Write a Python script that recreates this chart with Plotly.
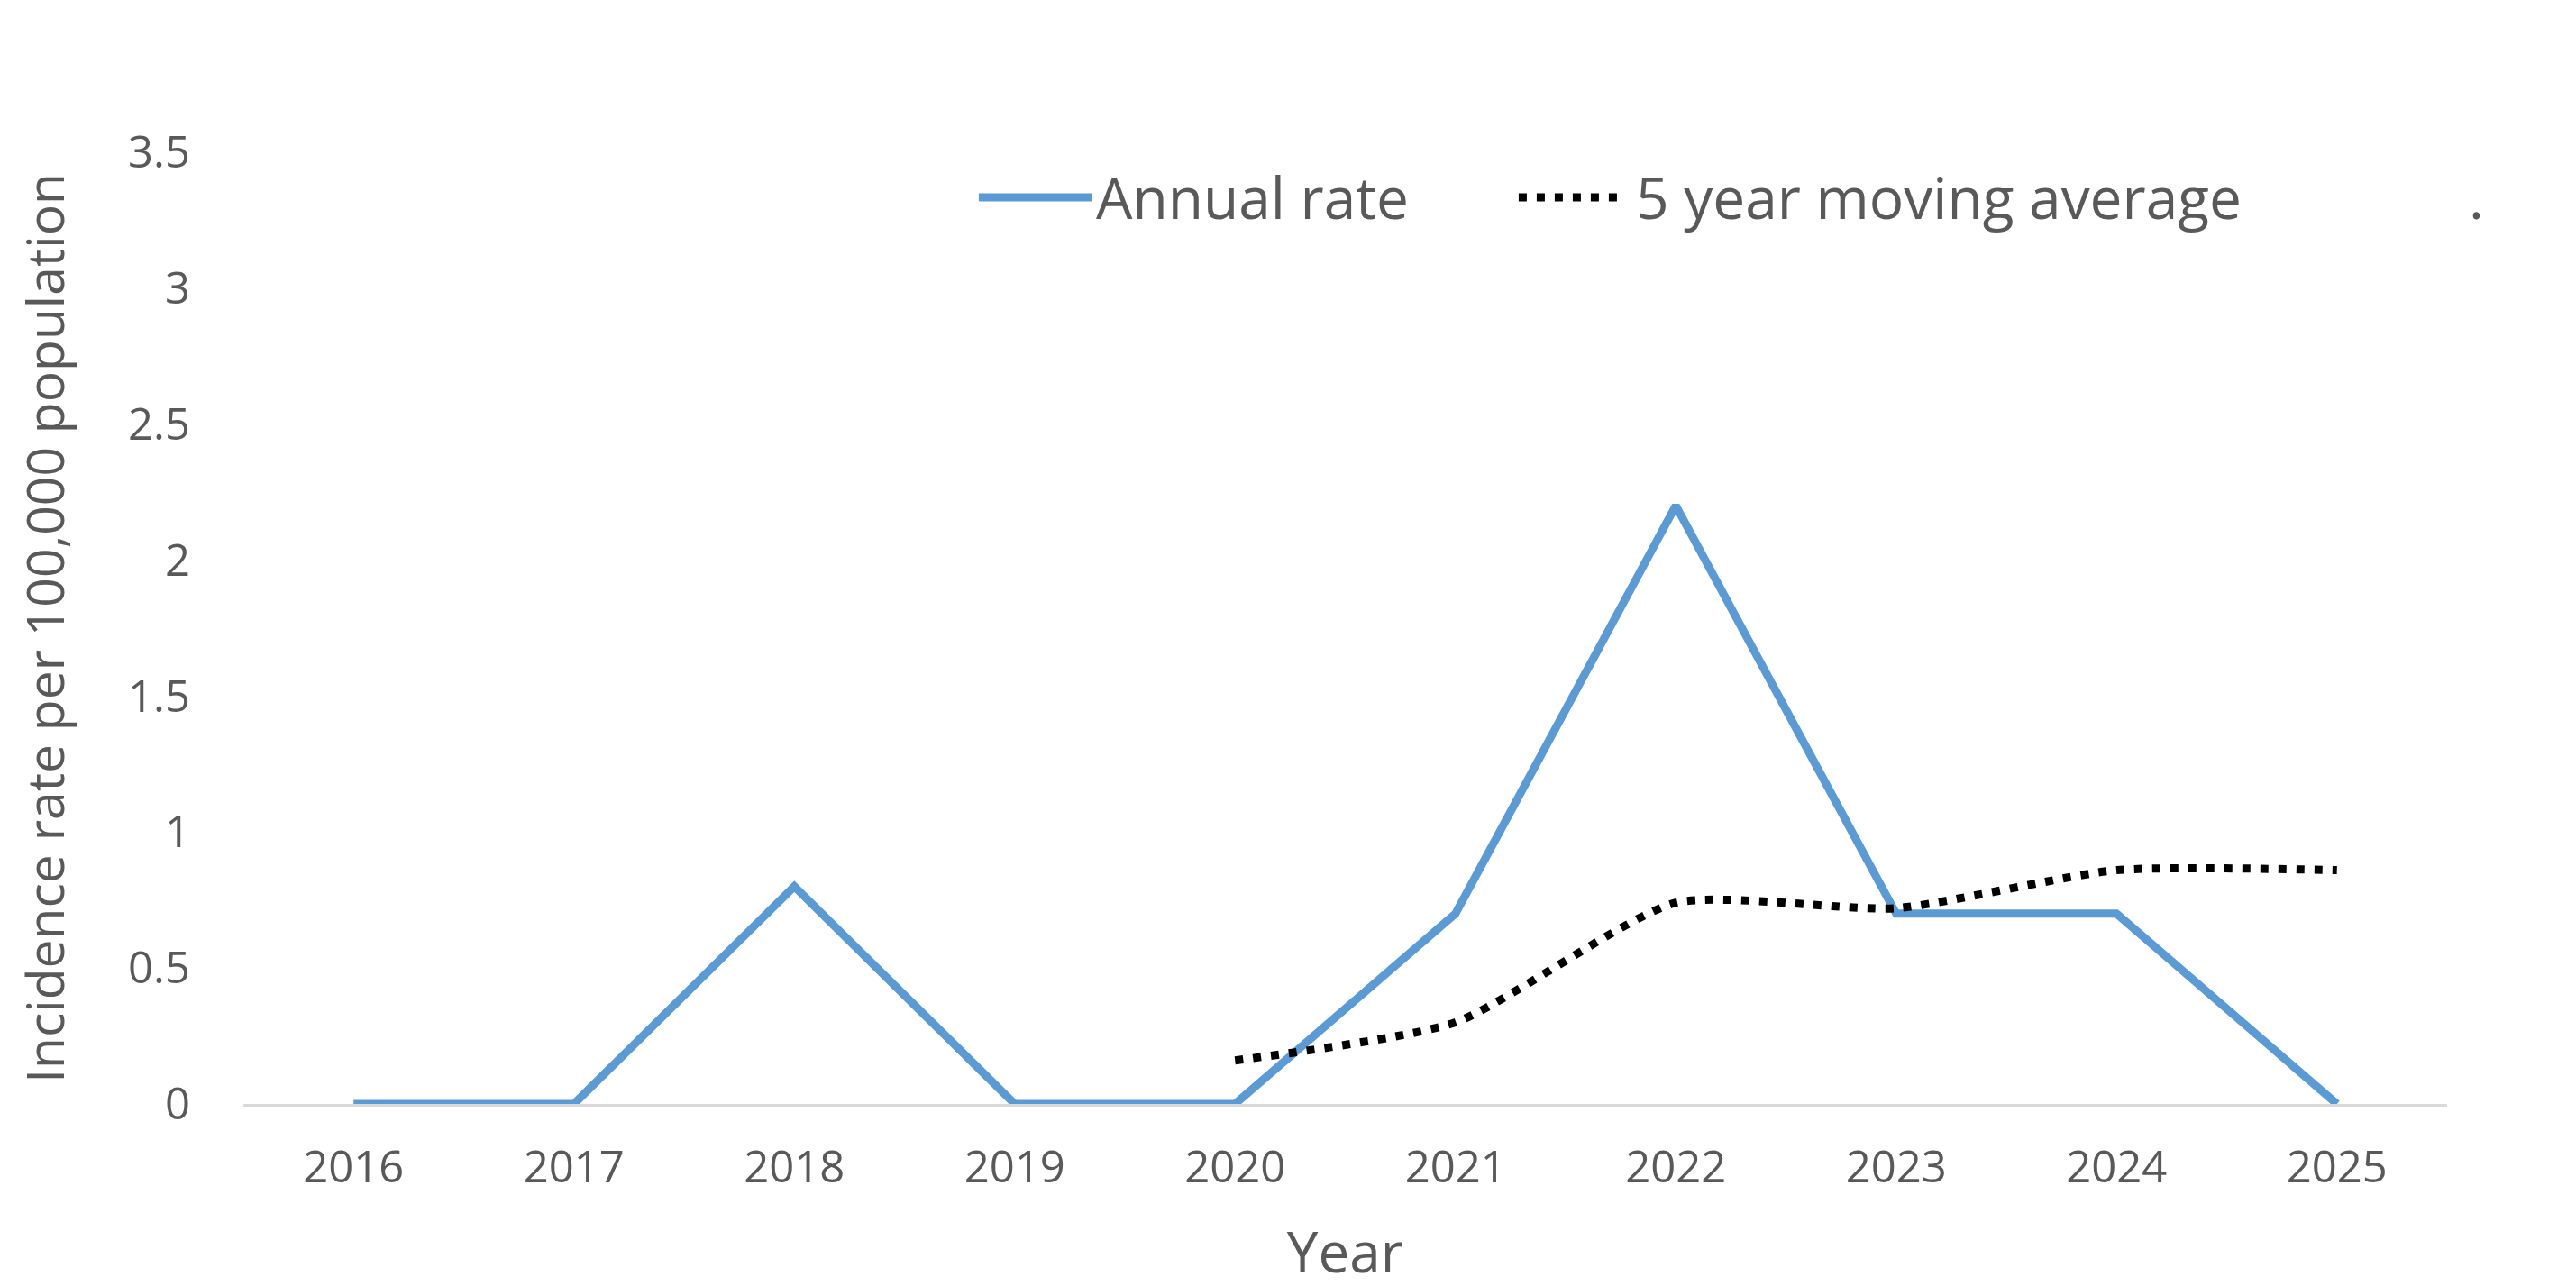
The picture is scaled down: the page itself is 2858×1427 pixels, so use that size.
import plotly.graph_objects as go

years = ['2016', '2017', '2018', '2019', '2020', '2021', '2022', '2023', '2024', '2025']
annual_rate = [0, 0, 0.8, 0, 0, 0.7, 2.2, 0.7, 0.7, 0]
avg_years = ['2020', '2021', '2022', '2023', '2024', '2025']
moving_avg = [0.16, 0.30, 0.74, 0.72, 0.86, 0.86]

BLUE = '#5B9BD5'
GREY = '#595959'
FONT = 'Open Sans'
DOTS = '9px,11px'

fig = go.Figure()
fig.add_trace(go.Scatter(
    x=years, y=annual_rate, mode='lines', name='Annual rate',
    line=dict(color=BLUE, width=9),
))
fig.add_trace(go.Scatter(
    x=avg_years, y=moving_avg, mode='lines', name='5 year moving average',
    line=dict(color='black', width=9, dash=DOTS, shape='spline', smoothing=0.6),
))

# legend drawn by hand (long line samples like the original)
leg_y = 0.9527
fig.add_shape(type='line', xref='paper', yref='paper',
              x0=0.3337, x1=0.3849, y0=leg_y, y1=leg_y,
              line=dict(color=BLUE, width=9))
fig.add_shape(type='line', xref='paper', yref='paper',
              x0=0.5787, x1=0.6237, y0=leg_y, y1=leg_y,
              line=dict(color='black', width=9, dash=DOTS))
for txt, xp in [('Annual rate', 0.386), ('5 year moving average', 0.631), ('.', 1.009)]:
    fig.add_annotation(text=txt, xref='paper', yref='paper', x=xp, y=leg_y,
                       xanchor='left', yanchor='middle', showarrow=False,
                       font=dict(family=FONT, size=64, color=GREY))

fig.update_layout(
    width=2858, height=1427,
    margin=dict(l=262, r=151, t=161, b=210),
    plot_bgcolor='white', paper_bgcolor='white',
    showlegend=False,
    font=dict(family=FONT, color=GREY),
)
fig.update_xaxes(
    type='category', range=[-0.5, 9.5],
    showgrid=False, zeroline=False,
    showline=True, linecolor='#D9D9D9', linewidth=3,
    ticks='', tickfont=dict(size=49, color=GREY), ticklabelstandoff=25,
    title=dict(text='Year', font=dict(size=62, color=GREY), standoff=44),
)
fig.update_yaxes(
    range=[0, 3.5], dtick=0.5, tickformat='~g',
    showgrid=False, zeroline=False, showline=False,
    ticks='', tickfont=dict(size=49, color=GREY), ticklabelstandoff=58,
    title=dict(text='Incidence rate per 100,000 population',
               font=dict(size=57, color=GREY), standoff=52),
)

fig.write_html('out.html')
